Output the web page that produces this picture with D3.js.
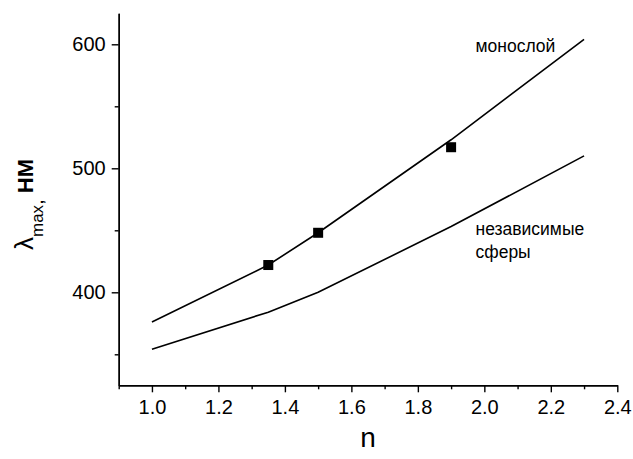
<!DOCTYPE html>
<html>
<head>
<meta charset="utf-8">
<script src="https://cdn.jsdelivr.net/npm/d3@7"></script>
<style>
  body { margin: 0; background: #fff; }
  svg { display: block; font-family: "Liberation Sans", Arial, sans-serif; }
</style>
</head>
<body>
<svg id="chart" width="633" height="459"></svg>
<script>
// refractive index where the curves were calculated
var nCalc = [1.0, 1.35, 1.5, 1.9, 2.3];
// λmax, нм : monolayer and independent spheres
var lambdaMono = [376, 422, 448, 523, 604];
var lambdaSpheres = [354, 384, 400, 453, 510];
// experimental points
var nExp = [1.35, 1.5, 1.9];
var lambdaExp = [422, 448, 517];

var xMajor = [1.0, 1.2, 1.4, 1.6, 1.8, 2.0, 2.2, 2.4];
var xMinor = [0.9, 1.1, 1.3, 1.5, 1.7, 1.9, 2.1, 2.3];
var yMajor = [400, 500, 600];
var yMinor = [350, 450, 550];

var svg = d3.select("#chart");

var x = d3.scaleLinear().domain([0.9, 2.4]).range([118.7, 617.3]);
var y = d3.scaleLinear().domain([325, 625]).range([385.3, 13.3]);

var styleAxis = function(g) {
    g.selectAll("path, line").attr("stroke", "#000").attr("stroke-width", 1.4);
    g.selectAll("text").attr("fill", "#000").style("font-size", "20px")
        .style("font-family", "Liberation Sans, Arial, sans-serif");
}

// x axis
svg.append("g")
    .attr("transform", "translate(0," + y.range()[0] + ")")
    .call(d3.axisBottom(x).tickValues(xMinor).tickSize(4).tickSizeOuter(0).tickFormat(""))
    .call(styleAxis);
svg.append("g")
    .attr("transform", "translate(0," + y.range()[0] + ")")
    .call(d3.axisBottom(x).tickValues(xMajor).tickSize(7).tickSizeOuter(0)
        .tickPadding(8).tickFormat(d3.format(".1f")))
    .call(styleAxis);

// y axis
svg.append("g")
    .attr("transform", "translate(" + x.range()[0] + ",0)")
    .call(d3.axisLeft(y).tickValues(yMinor).tickSize(4).tickSizeOuter(0).tickFormat(""))
    .call(styleAxis);
svg.append("g")
    .attr("transform", "translate(" + x.range()[0] + ",0)")
    .call(d3.axisLeft(y).tickValues(yMajor).tickSize(7).tickSizeOuter(0).tickPadding(6))
    .call(styleAxis);

// curves
var line = d3.line()
    .x(function(d) { return x(d[0]); })
    .y(function(d) { return y(d[1]); });

[lambdaMono, lambdaSpheres].forEach(function(series) {
    svg.append("path")
        .datum(d3.zip(nCalc, series))
        .attr("d", line)
        .attr("fill", "none")
        .attr("stroke", "#000")
        .attr("stroke-width", 1.6);
});

// experimental squares
var sq = 10;
svg.selectAll("rect.exp")
    .data(d3.zip(nExp, lambdaExp))
    .enter().append("rect")
    .attr("class", "exp")
    .attr("x", function(d) { return x(d[0]) - sq / 2; })
    .attr("y", function(d) { return y(d[1]) - sq / 2; })
    .attr("width", sq)
    .attr("height", sq)
    .attr("fill", "#000");

// curve labels
svg.append("text").attr("x", 475.5).attr("y", 51.5).text("монослой")
    .style("font-size", "17.5px");
svg.append("text").attr("x", 475.5).attr("y", 235).text("независимые")
    .style("font-size", "17.5px");
svg.append("text").attr("x", 475.5).attr("y", 258).text("сферы")
    .style("font-size", "17.5px");

// axis titles
svg.append("text")
    .attr("x", (x.range()[0] + x.range()[1]) / 2)
    .attr("y", 447)
    .attr("text-anchor", "middle")
    .style("font-size", "28px")
    .text("n");

var ylab = svg.append("text")
    .attr("transform", "translate(33,250) rotate(-90)");
ylab.append("tspan").style("font-size", "26px").text("λ");
ylab.append("tspan").style("font-size", "17px").attr("dy", 10).text("max");
ylab.append("tspan").style("font-size", "21px").text(",  ");
ylab.append("tspan").style("font-size", "22px").style("font-weight", "bold").attr("dy", -10).text("НМ");
</script>
</body>
</html>
